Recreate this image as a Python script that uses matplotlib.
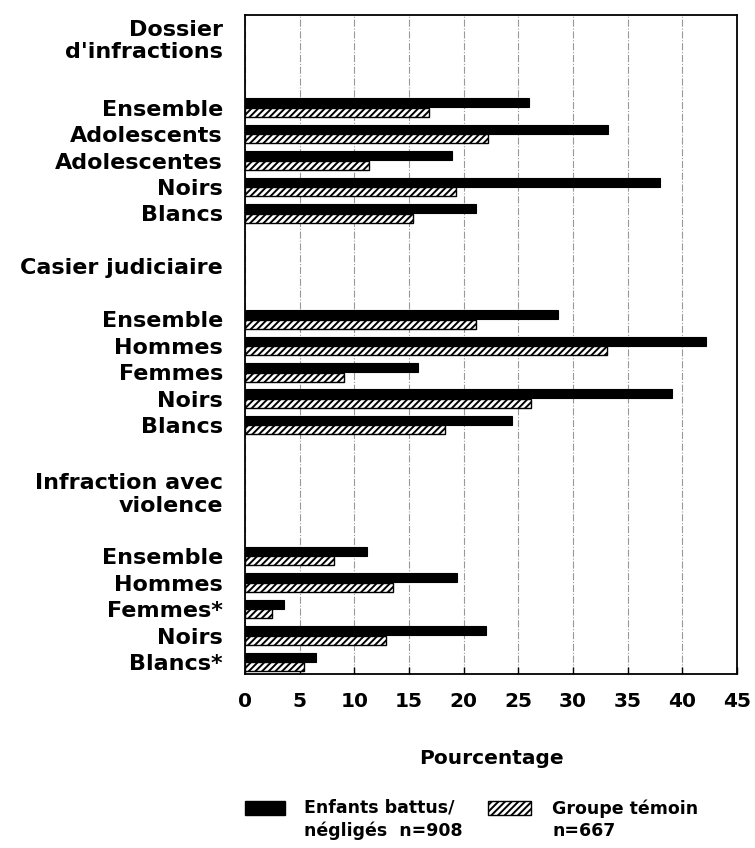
import matplotlib
matplotlib.use("Agg")
import matplotlib.pyplot as plt
from matplotlib.patches import Rectangle

# ---------------- data ----------------
group_titles = ["Dossier\nd'infractions", "Casier judiciaire", "Infraction avec\nviolence"]

cats_dossier = ["Ensemble", "Adolescents", "Adolescentes", "Noirs", "Blancs"]
abused_dossier = [26.0, 33.2, 18.9, 38.0, 21.1]
control_dossier = [16.8, 22.2, 11.3, 19.3, 15.4]

cats_casier = ["Ensemble", "Hommes", "Femmes", "Noirs", "Blancs"]
abused_casier = [28.6, 42.2, 15.8, 39.1, 24.4]
control_casier = [21.1, 33.1, 9.1, 26.2, 18.3]

cats_violence = ["Ensemble", "Hommes", "Femmes*", "Noirs", "Blancs*"]
abused_violence = [11.2, 19.4, 3.6, 22.0, 6.5]
control_violence = [8.1, 13.5, 2.5, 12.9, 5.4]

xticks = [0, 5, 10, 15, 20, 25, 30, 35, 40, 45]
xlabel = "Pourcentage"
legend_abused = "Enfants battus/\nnégligés  n=908"
legend_control = "Groupe témoin\nn=667"

# ---------------- layout ----------------
plt.rcParams['font.family'] = ['DejaVu Sans']
plt.rcParams['hatch.linewidth'] = 1.4

W, H = 755, 848
fig = plt.figure(figsize=(W / 100, H / 100), dpi=100)
ax = fig.add_axes([245 / W, 1 - 674 / H, (737 - 245) / W, (674 - 15) / H])

groups = [
    (cats_dossier, abused_dossier, control_dossier),
    (cats_casier, abused_casier, control_casier),
    (cats_violence, abused_violence, control_violence),
]
header_pos = [0.87, 9.5, 18.0]
first_row = [3.5, 11.5, 20.45]

bh = 0.34
off = 0.18
ytick_pos, ytick_lab, is_header = [], [], []
for g, (cats, ab, ct) in enumerate(groups):
    ytick_pos.append(header_pos[g]); ytick_lab.append(group_titles[g]); is_header.append(True)
    ys = [first_row[g] + i for i in range(len(cats))]
    ax.barh([y - off for y in ys], ab, height=bh, color='black', edgecolor='black',
            linewidth=0.8, zorder=3)
    ax.barh([y + off for y in ys], ct, height=bh, color='white', edgecolor='black',
            hatch='/////', linewidth=1.0, zorder=3)
    for y, c in zip(ys, cats):
        ytick_pos.append(y); ytick_lab.append(c); is_header.append(False)

ax.set_ylim(24.9, 0)
ax.set_xlim(0, 45)
ax.set_yticks(ytick_pos)
ax.set_yticklabels(ytick_lab)
for lab, hd in zip(ax.get_yticklabels(), is_header):
    lab.set_fontsize(16)
    lab.set_fontweight('bold')
    lab.set_linespacing(1.15 if hd else 1.0)
ax.tick_params(axis='y', length=0, pad=16)

ax.set_xticks(xticks)
ax.set_xticklabels([str(t) for t in xticks], fontsize=14.5, fontweight='bold')
ax.tick_params(axis='x', direction='in', length=5, width=1, pad=13)
ax.grid(axis='x', linestyle='-.', color='#999999', linewidth=0.8, zorder=0)
ax.set_axisbelow(True)
for s in ax.spines.values():
    s.set_linewidth(1.3)
ax.set_xlabel(xlabel, fontsize=14.5, fontweight='bold', labelpad=27)

# ---------------- legend ----------------
fig.add_artist(Rectangle((245 / W, 1 - 815 / H), 40 / W, 14 / H, transform=fig.transFigure,
                         facecolor='black', edgecolor='black'))
fig.add_artist(Rectangle((488 / W, 1 - 815 / H), 43 / W, 14 / H, transform=fig.transFigure,
                         facecolor='white', edgecolor='black', hatch='/////', linewidth=1.0))
fig.text(304 / W, 1 - 799 / H, legend_abused, fontsize=12.5, fontweight='bold',
         va='top', ha='left', linespacing=1.3)
fig.text(552 / W, 1 - 799 / H, legend_control, fontsize=12.5, fontweight='bold',
         va='top', ha='left', linespacing=1.3)

fig.savefig("out.png", dpi=100, facecolor='white')
